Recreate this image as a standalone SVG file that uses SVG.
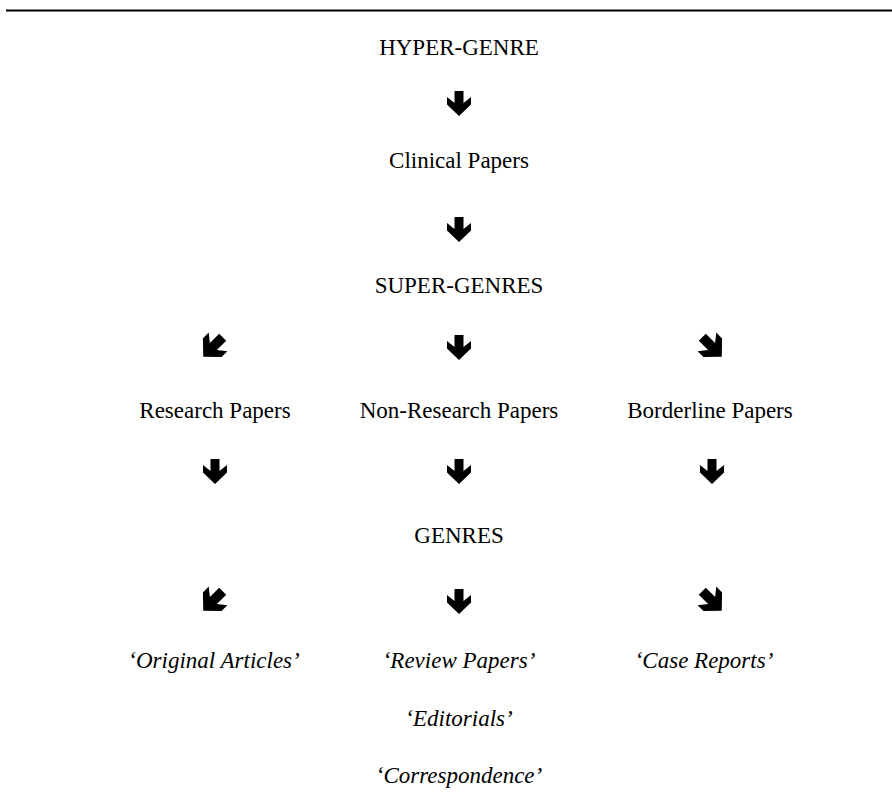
<svg xmlns="http://www.w3.org/2000/svg" width="892" height="812" viewBox="0 0 892 812">
<defs>
<style>
text{font-family:"Liberation Serif","Times New Roman",serif;font-size:23px;fill:#000;text-anchor:middle}
.it{font-style:italic}
.arr{fill:#000}
</style>
<polygon id="dn" points="-4.5,0 4.5,0 4.5,12 12,6 12,13.5 0,25 -12,13.5 -12,6 -4.5,12"/>
</defs>
<rect width="892" height="812" fill="#fff"/>
<line x1="6" y1="10.5" x2="892" y2="10.5" stroke="#000" stroke-width="2"/>
<g id="hyper-genre"><text x="459" y="55">HYPER-GENRE</text></g>
<g id="clinical"><text x="459" y="168">Clinical Papers</text></g>
<g id="super-genres"><text x="459" y="293">SUPER-GENRES</text></g>
<g id="research"><text x="215" y="418">Research Papers</text></g>
<g id="non-research"><text x="459" y="418">Non-Research Papers</text></g>
<g id="borderline"><text x="710" y="418">Borderline Papers</text></g>
<g id="genres"><text x="459" y="543">GENRES</text></g>
<g id="original"><text class="it" x="214" y="668">‘Original Articles’</text></g>
<g id="review"><text class="it" x="459" y="668">‘Review Papers’</text></g>
<g id="case"><text class="it" x="704" y="668">‘Case Reports’</text></g>
<g id="editorials"><text class="it" x="459" y="726">‘Editorials’</text></g>
<g id="correspondence"><text class="it" x="459" y="783">‘Correspondence’</text></g>
<g id="connectors" class="arr">
<use href="#dn" transform="translate(459,91)"/>
<use href="#dn" transform="translate(459,217)"/>
<use href="#dn" transform="translate(459,335)"/>
<use href="#dn" transform="translate(213,347) rotate(45) scale(1.1) translate(0,-12.5)"/>
<use href="#dn" transform="translate(712,347) rotate(-45) scale(1.1) translate(0,-12.5)"/>
<use href="#dn" transform="translate(215,459)"/>
<use href="#dn" transform="translate(459,459)"/>
<use href="#dn" transform="translate(712,459)"/>
<use href="#dn" transform="translate(459,589)"/>
<use href="#dn" transform="translate(213,601) rotate(45) scale(1.1) translate(0,-12.5)"/>
<use href="#dn" transform="translate(712,601) rotate(-45) scale(1.1) translate(0,-12.5)"/>
</g>
</svg>
